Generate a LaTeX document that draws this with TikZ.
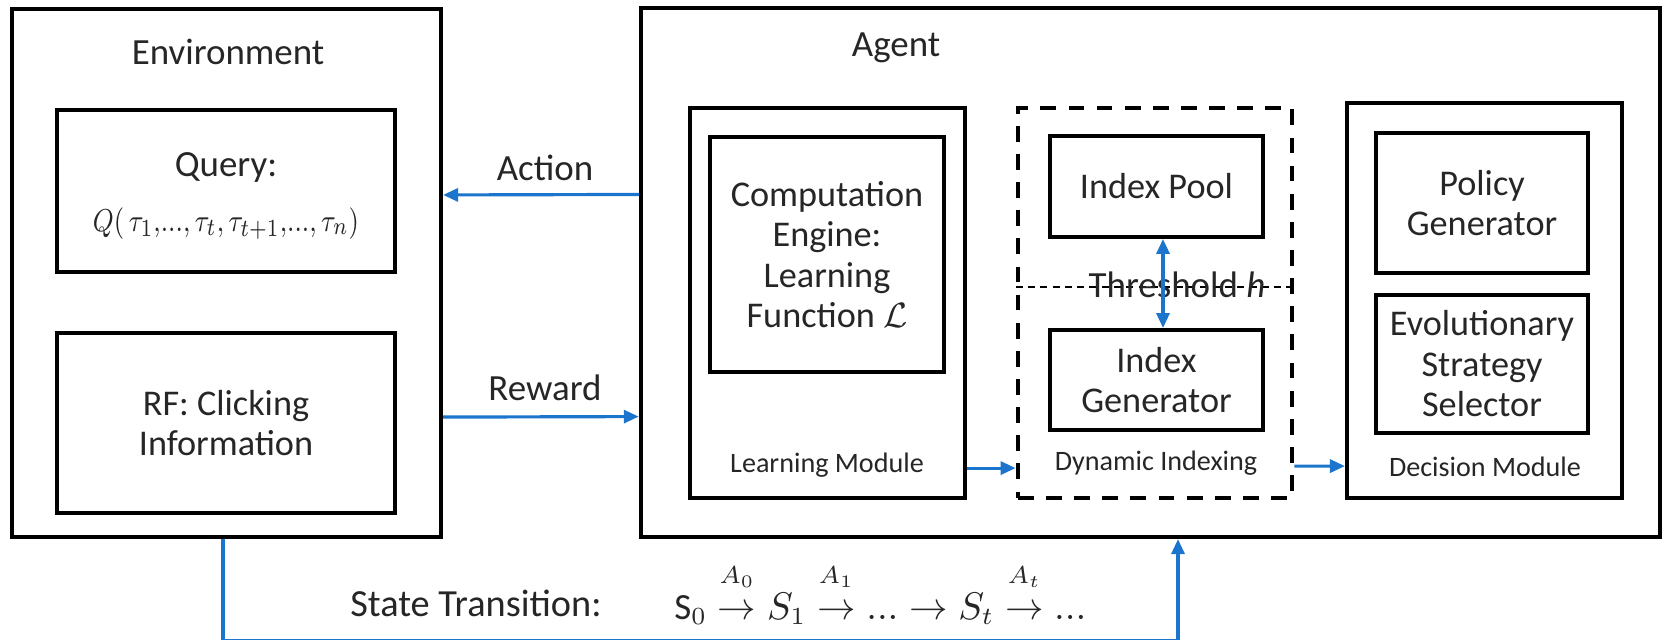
\documentclass[tikz,border=0pt]{standalone}
\usepackage{amsmath}
\usepackage{amssymb}
\usepackage{fontspec}
\setmainfont{Carlito}
\usepackage{tikz}
\usetikzlibrary{arrows.meta, positioning, calc}
\usepackage{xcolor}
\definecolor{arrblue}{RGB}{28,117,205}
\newcommand{\tdots}{{\ldotp}{\ldotp}{\ldotp}}
\newcommand{\actarrow}[1]{\mathrel{\overset{\raisebox{4pt}{$\scriptstyle #1$}}{\rightarrow}}}

\begin{document}
\begin{tikzpicture}[
    x=0.01cm, y=-0.01cm,
    box/.style={rectangle, draw, line width=1.1pt, inner sep=2pt, font=\fontsize{10.3}{11.5}\selectfont, align=center, text=black!85},
    dashbox/.style={rectangle, draw, line width=1.3pt, dash pattern=on 4.5pt off 3.5pt},
    title/.style={font=\fontsize{10.5}{12.6}\selectfont, text=black!85, align=center},
    modlbl/.style={font=\fontsize{8}{9.6}\selectfont, text=black!85},
    arrow/.style={-{Triangle[length=0.15cm, width=0.13cm]}, draw=arrblue, line width=0.9pt}
]
    \useasboundingbox (0,0) rectangle (1663,640);

    % Environment
    \node [box, minimum width=4.29cm, minimum height=5.28cm] (env) at (226.5,273) {};
    \node [title] (envtitle) at (228,52) {Environment};
    \node [box, minimum width=3.38cm, minimum height=1.62cm] (query) at (226,191) {};
    \node [title] (querytxt) at (226,196) {Query:\\[3pt]\scalebox{0.82}[1]{\fontsize{9.5}{10}\selectfont $Q(\,\tau_1{,}\tdots{,}\,\tau_t{,}\,\tau_{t+1}{,}\tdots{,}\,\tau_n)$}};
    \node [box, minimum width=3.38cm, minimum height=1.80cm] (rf) at (226,423) {RF: Clicking\\Information};

    % Agent
    \node [box, minimum width=10.19cm, minimum height=5.29cm] (agent) at (1150.5,272.5) {};
    \node [title] (agenttitle) at (896,48) {Agent};

    % Learning module
    \node [box, minimum width=2.75cm, minimum height=3.90cm] (learn) at (827.5,303) {};
    \node [box, minimum width=2.34cm, minimum height=2.35cm] (comp) at (827,254.5) {Computation\\Engine:\\Learning\\Function $\mathcal{L}$};
    \node [modlbl] (learnlbl) at (827,465) {Learning Module};

    % Dynamic indexing
    \node [dashbox, minimum width=2.74cm, minimum height=3.90cm] (dyn) at (1155,303) {};
    \node [box, minimum width=2.13cm, minimum height=1.01cm] (pool) at (1156.5,186.5) {Index Pool};
    \node [box, minimum width=2.13cm, minimum height=1.00cm] (gen) at (1156.5,380) {Index\\Generator};
    \node [modlbl] (dynlbl) at (1156,463) {Dynamic Indexing};
    \coordinate (thr) at (1155,287);
    \draw [line width=0.5pt, dash pattern=on 2pt off 1.5pt] (dyn.west |- thr) -- (dyn.east |- thr);
    \node [title] (thrlbl) at (1177,285) {Threshold \textit{h}};
    \draw [arrow, {Triangle[length=0.15cm, width=0.13cm]}-{Triangle[length=0.15cm, width=0.13cm]}] ([xshift=0.065cm]pool.south) -- ([xshift=0.065cm]gen.north);

    % Decision module
    \node [box, minimum width=2.75cm, minimum height=3.95cm] (dec) at (1484.5,300.5) {};
    \node [box, minimum width=2.12cm, minimum height=1.40cm] (policy) at (1482,203) {Policy\\Generator};
    \node [box, minimum width=2.12cm, minimum height=1.38cm] (evo) at (1482,364) {Evolutionary\\Strategy\\Selector};
    \node [modlbl] (declbl) at (1485,467) {Decision Module};

    % Arrows
    \draw [arrow] ([yshift=0.78cm]agent.west) -- ([yshift=0.78cm]env.east);
    \draw [arrow] ([yshift=-1.44cm]env.east) -- ([yshift=-1.44cm]agent.west);
    \draw [arrow] ([yshift=-1.65cm]learn.east) -- ([yshift=-1.65cm]dyn.west);
    \draw [arrow] ([yshift=-1.63cm]dyn.east) -- ([yshift=-1.655cm]dec.west);
    \draw [arrow] ([xshift=-0.035cm]env.south) -- ++(0,101) -| ([xshift=0.275cm]agent.south);

    % Labels
    \node [title] (actlbl) at (545,168) {Action};
    \node [title] (rewlbl) at (545,388) {Reward};
    \node [title, anchor=east] (sttext) at (614,603) {\fontsize{10.9}{13}\selectfont State Transition:};
    \node [title, anchor=west] (stform) at (662,594) {$\mathrm{S}_0 \actarrow{A_0} S_1 \actarrow{A_1} \tdots \rightarrow S_t \actarrow{A_t} \tdots$};
\end{tikzpicture}
\end{document}
